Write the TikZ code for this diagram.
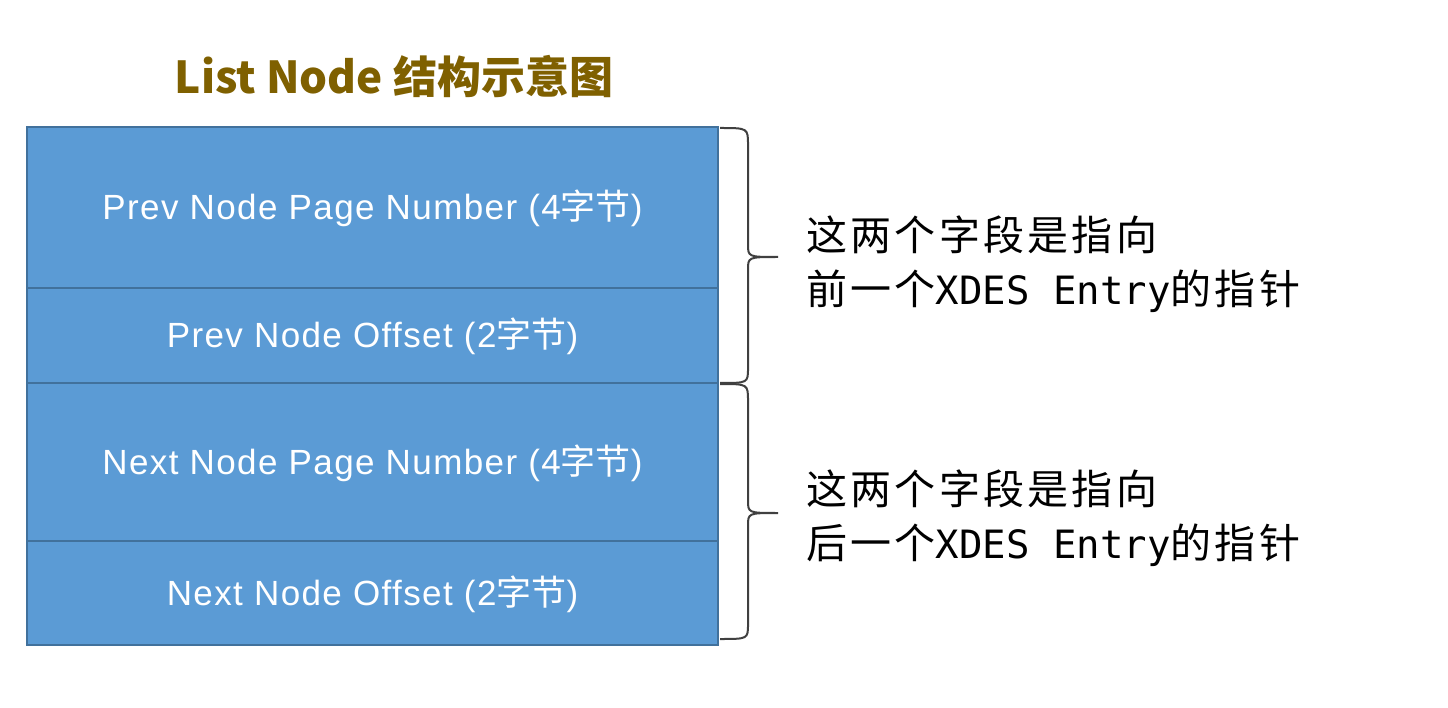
\documentclass[tikz,border=0pt]{standalone}
\usepackage{fontspec}
\newfontfamily\cjk{Noto Sans CJK SC}
\newfontfamily\cjkwide[LetterSpace=8]{Noto Sans CJK SC}
\newfontfamily\mono{DejaVu Sans Mono}
\newfontfamily\fieldfont[LetterSpace=4]{Liberation Sans}
\definecolor{fieldblue}{HTML}{5B9BD5}
\definecolor{fieldedge}{HTML}{41719C}
\definecolor{titlebrown}{HTML}{7F6000}
\definecolor{bracegray}{HTML}{404040}
\tikzset{
  field/.style={draw=fieldedge,line width=2pt,fill=fieldblue,text=white,
    minimum width=691pt,inner sep=0pt,text height=25pt,text depth=0pt,
    font=\fieldfont\fontsize{35}{40}\selectfont},
  note/.style={anchor=west,align=left,inner sep=0pt,
    font=\cjkwide\fontsize{41}{54}\selectfont},
  bracepath/.style={draw=bracegray,line width=2pt}
}
\begin{document}
\begin{tikzpicture}[x=1pt,y=-1pt]
  \useasboundingbox (0,0) rectangle (1448,708);
  \node[text=titlebrown,font=\cjk\bfseries\fontsize{44}{50}\selectfont] (title) at (394,76) {List Node 结构示意图};
  \node[field,minimum height=161pt] (prevpage) at (372.5,207.5) {Prev Node Page Number (4{\cjk 字节})};
  \node[field,minimum height=95pt] (prevoff) at (372.5,335.5) {Prev Node Offset (2{\cjk 字节})};
  \node[field,minimum height=158pt] (nextpage) at (372.5,462) {Next Node Page Number (4{\cjk 字节})};
  \node[field,minimum height=104pt] (nextoff) at (372.5,593) {Next Node Offset (2{\cjk 字节})};
  % braces
  \draw[bracepath](720,128) .. controls (748,128) .. (748,145) -- (748,244)
    .. controls (748,257) .. (778,257) .. controls (748,257) .. (748,270)
    -- (748,368) .. controls (748,383) .. (720,383);
  \begin{scope}[yshift=-256pt]
  \draw[bracepath](720,128) .. controls (748,128) .. (748,145) -- (748,244)
    .. controls (748,257) .. (778,257) .. controls (748,257) .. (748,270)
    -- (748,368) .. controls (748,383) .. (720,383);
  \end{scope}
  \node[note] (prevnote) at (806,264) {这两个字段是指向\\前一个{\mono\fontsize{39}{54}\selectfont XDES Entry}的指针};
  \node[note] (nextnote) at (806,518) {这两个字段是指向\\后一个{\mono\fontsize{39}{54}\selectfont XDES Entry}的指针};
\end{tikzpicture}
\end{document}
